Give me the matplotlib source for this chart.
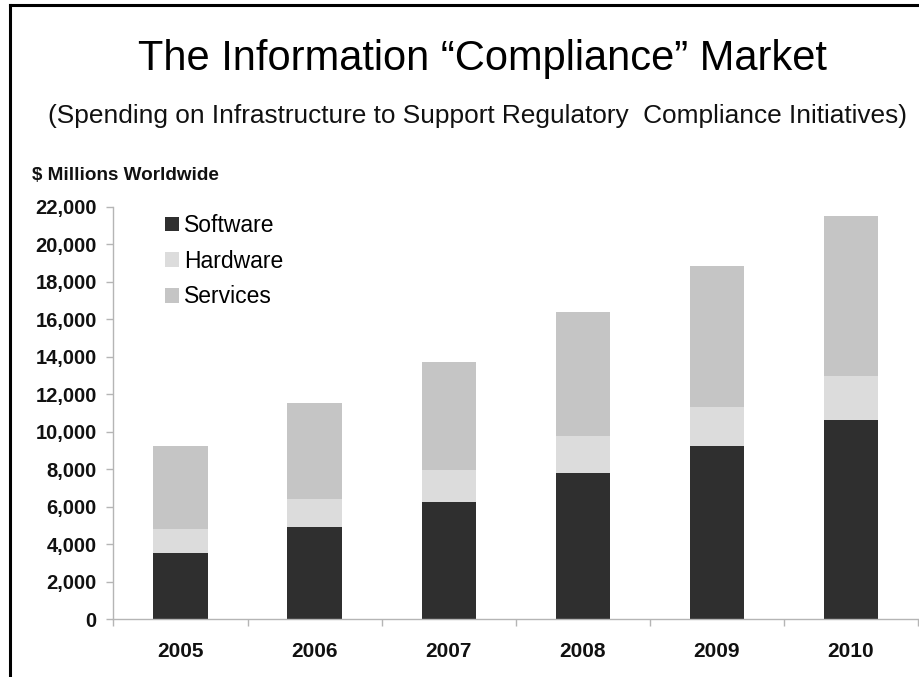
import matplotlib
matplotlib.use("Agg")
import matplotlib.pyplot as plt
from matplotlib.patches import Patch
from matplotlib.lines import Line2D
import numpy as np

years = ["2005", "2006", "2007", "2008", "2009", "2010"]
software = [3550, 4920, 6260, 7820, 9230, 10650]
hardware = [1270, 1480, 1700, 1970, 2110, 2330]
services = [4420, 5120, 5760, 6600, 7500, 8550]
series_names = ["Software", "Hardware", "Services"]
colors = ["#2f2f2f", "#dcdcdc", "#c5c5c5"]
yticks = list(range(0, 22001, 2000))

W, H = 920, 677
plt.rcParams['font.family'] = ['Liberation Sans', 'DejaVu Sans']
fig = plt.figure(figsize=(W / 100, H / 100), dpi=100)
fig.patch.set_facecolor("white")

def fx(px):
    return px / W

def fy(py):
    return 1 - py / H

ax = fig.add_axes([fx(113.5), fy(619.3), fx(918) - fx(113.5), fy(206.7) - fy(619.3)])
x = np.arange(len(years))
bw = 0.405
ax.bar(x, software, bw, color=colors[0], label=series_names[0])
bottom2 = np.array(software)
ax.bar(x, hardware, bw, bottom=bottom2, color=colors[1], label=series_names[1])
bottom3 = bottom2 + np.array(hardware)
ax.bar(x, services, bw, bottom=bottom3, color=colors[2], label=series_names[2])

ax.set_xlim(-0.5, len(years) - 0.5)
ax.set_ylim(0, 22000)
ax.set_yticks(yticks)
ax.set_yticklabels([f"{v:,}" for v in yticks], fontsize=14.5, fontweight="bold", color="#111111")
ax.set_xticks(x)
ax.set_xticklabels(years, fontsize=15, fontweight="bold", color="#111111")
ax.set_xticks(np.arange(-0.5, len(years)), minor=True)
ax.tick_params(axis="x", which="major", length=0, pad=16)
ax.tick_params(axis="x", which="minor", length=5, width=1, color="#b5b5b5", direction="out")
ax.tick_params(axis="y", which="major", length=5, width=1, color="#b5b5b5", pad=7)

for s in ["top", "right"]:
    ax.spines[s].set_visible(False)
for s in ["left", "bottom"]:
    ax.spines[s].set_color("#b5b5b5")
    ax.spines[s].set_linewidth(1.0)
ax.set_facecolor("white")

handles = [Patch(facecolor=c, edgecolor="none") for c in colors]
leg = ax.legend(handles, series_names, loc="upper left",
                bbox_to_anchor=(fx(165), fy(214)), bbox_transform=fig.transFigure,
                frameon=False, fontsize=16.5, handlelength=0.62, handleheight=0.62,
                handletextpad=0.2, labelspacing=0.55, borderpad=0, borderaxespad=0)

fig.text(fx(482.5), fy(70), "The Information \u201cCompliance\u201d Market",
         ha="center", va="baseline", fontsize=30, color="#000000")
fig.text(fx(478), fy(123),
         "(Spending on Infrastructure to Support Regulatory  Compliance Initiatives)",
         ha="center", va="baseline", fontsize=18.9, color="#111111")
fig.text(fx(32), fy(180.5), "$ Millions Worldwide", ha="left", va="baseline",
         fontsize=13.6, fontweight="bold", color="#111111")

# frame lines (left and top)
fig.add_artist(Line2D([fx(10), fx(10)], [fy(5), fy(677)], color="black", lw=2.2,
                      transform=fig.transFigure))
fig.add_artist(Line2D([fx(10), fx(920)], [fy(5), fy(5)], color="black", lw=2.2,
                      transform=fig.transFigure))

fig.savefig("out.png", dpi=100, facecolor="white")
